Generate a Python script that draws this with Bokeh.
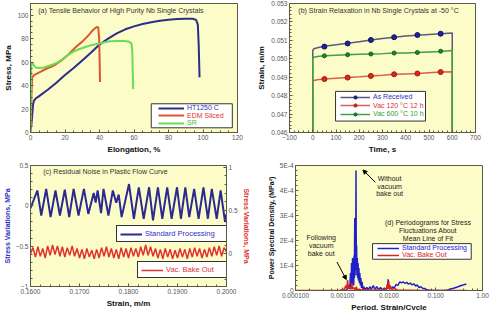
from bokeh.plotting import figure
from bokeh.models import (Range1d, LinearAxis, Legend, LegendItem, BoxAnnotation, Label,
                          Arrow, NormalHead, SingleIntervalTicker, NumeralTickFormatter,
                          CustomJSTickFormatter, LogTicker, FixedTicker)
from bokeh.layouts import row, column
from bokeh.embed import file_html
from bokeh.resources import INLINE

FONT = "Liberation Sans"
BG = "#fcfcc8"
EDGE = "#5a5a46"
TICKC = "#555555"

# ---------------- (a) tensile curves ----------------
a_ht_x = [0, 0.5, 1, 1.5, 2, 3, 5, 10, 15, 20, 25, 30, 35, 40, 45, 50, 55, 60, 65, 70,
          75, 80, 85, 90, 94, 96, 97, 97.5, 98]
a_ht_y = [2, 6, 15, 24, 27, 29, 31, 36.5, 42.5, 49, 55, 61.5, 68, 75, 80, 84.5, 88, 90.5, 92.5, 94,
          95.3, 96.2, 96.8, 97, 97, 96, 92, 75, 47]
a_edm_x = [0, 0.3, 0.6, 1, 2, 4, 6, 8, 10, 12, 14, 16, 18, 20, 22, 24, 26, 28, 30, 32,
           34, 36, 37.5, 38.5, 39.3, 39.8, 40.1, 40.3]
a_edm_y = [0, 15, 35, 47, 49, 50.5, 52, 53.5, 55, 56, 57.5, 59.5, 61.5, 64, 66.5, 69.5, 72.5, 75, 77.5, 80.5,
           83.5, 87, 89, 90, 89.5, 80, 60, 43]
a_sr_x = [0, 0.2, 0.5, 1, 2, 3, 5, 8, 10, 13, 16, 19, 22, 25, 28, 31, 34, 37, 40, 43,
          46, 50, 54, 57, 58.5, 59, 59.3, 59.5]
a_sr_y = [0, 30, 58, 60, 57, 55.5, 55, 55.5, 56.5, 58, 60, 63, 66.5, 69, 71, 72.5, 74, 75, 76, 77,
          77.8, 78, 78, 77.5, 76, 70, 50, 37]

# ---------------- (b) strain relaxation ----------------
b_line_t = [0, 0, 5, 20, 50, 100, 150, 200, 250, 300, 350, 400, 450, 500, 550, 600, 600]
b_asrec_line = [0.0455, 0.05045, 0.05055, 0.0506, 0.05068, 0.05076, 0.05084, 0.05093, 0.05102,
                0.0511, 0.05117, 0.05123, 0.05128, 0.05132, 0.05136, 0.0514, 0.0455]
b_vac120_line = [0.0455, 0.04876, 0.04882, 0.04886, 0.0489, 0.04894, 0.04898, 0.04902, 0.04907,
                 0.04911, 0.04916, 0.04918, 0.0492, 0.04924, 0.04928, 0.0493, 0.0455]
b_vac600_line = [0.0455, 0.05005, 0.05008, 0.05012, 0.05016, 0.05019, 0.05022, 0.05024, 0.05026,
                 0.05028, 0.05031, 0.05032, 0.05034, 0.05037, 0.0504, 0.05045, 0.0455]
b_mark_t = [50, 150, 250, 350, 450, 550]
b_asrec_mark = [0.05066, 0.05083, 0.05102, 0.05117, 0.05129, 0.05136]
b_vac120_mark = [0.0489, 0.04898, 0.04907, 0.04916, 0.0492, 0.04928]
b_vac600_mark = [0.05016, 0.05022, 0.05026, 0.05031, 0.05034, 0.05041]

# ---------------- (c) residual noise ----------------
c_std_x = [0.1600, 0.1614, 0.1622, 0.1632, 0.1641, 0.1651, 0.1660, 0.1670, 0.1679, 0.1688,
           0.1698, 0.1709, 0.1718, 0.1729, 0.1733, 0.1737, 0.1744, 0.1749, 0.1759, 0.1768,
           0.1775, 0.1780, 0.1786, 0.1801, 0.1811, 0.1821, 0.1831, 0.1842, 0.1850, 0.1860,
           0.1869, 0.1879, 0.1888, 0.1899, 0.1907, 0.1916, 0.1924, 0.1934, 0.1943, 0.1953,
           0.1962, 0.1970, 0.1980, 0.1988, 0.1997, 0.2000]
c_std_y = [-0.03, 0.19, -0.12, 0.21, -0.14, 0.19, -0.12, 0.20, -0.14, 0.21,
           -0.12, 0.21, -0.10, 0.16, 0.04, 0.19, -0.09, 0.21, -0.12, 0.19,
           0.04, 0.14, -0.14, 0.27, -0.16, 0.23, -0.16, 0.23, -0.18, 0.23,
           -0.16, 0.23, -0.16, 0.23, -0.16, 0.23, -0.14, 0.21, -0.16, 0.23,
           -0.16, 0.21, -0.16, 0.19, -0.20, -0.10]
c_bake_x = [0.1600, 0.1605, 0.1610, 0.1615, 0.1620, 0.1625, 0.1630, 0.1635, 0.1640, 0.1645,
            0.1650, 0.1655, 0.1660, 0.1665, 0.1670, 0.1675, 0.1680, 0.1685, 0.1690, 0.1695,
            0.1700, 0.1705, 0.1710, 0.1715, 0.1720, 0.1725, 0.1730, 0.1735, 0.1740, 0.1745,
            0.1750, 0.1755, 0.1760, 0.1765, 0.1770, 0.1775, 0.1780, 0.1785, 0.1790, 0.1795,
            0.1800, 0.1805, 0.1810, 0.1815, 0.1820, 0.1825, 0.1830, 0.1835, 0.1840, 0.1845,
            0.1850, 0.1855, 0.1860, 0.1865, 0.1870, 0.1875, 0.1880, 0.1885, 0.1890, 0.1895,
            0.1900, 0.1905, 0.1910, 0.1915, 0.1920, 0.1925, 0.1930, 0.1935, 0.1940, 0.1945,
            0.1950, 0.1955, 0.1960, 0.1965, 0.1970, 0.1975, 0.1980, 0.1985, 0.1990, 0.1995,
            0.2000]
c_bake_y = [0.00, 0.07, -0.04, 0.08, -0.03, 0.06, -0.05, 0.09, -0.02, 0.10,
            -0.01, 0.09, -0.03, 0.08, -0.04, 0.07, -0.02, 0.09, -0.03, 0.06,
            -0.05, 0.05, -0.06, 0.06, -0.04, 0.04, -0.06, 0.05, -0.05, 0.07,
            -0.03, 0.08, -0.04, 0.06, -0.05, 0.05, -0.06, 0.07, -0.04, 0.06,
            -0.05, 0.07, -0.03, 0.06, -0.04, 0.08, -0.02, 0.10, -0.02, 0.08,
            -0.03, 0.06, -0.05, 0.05, -0.06, 0.06, -0.04, 0.05, -0.06, 0.04,
            -0.05, 0.06, -0.04, 0.05, -0.06, 0.06, -0.04, 0.07, -0.03, 0.06,
            -0.05, 0.05, -0.04, 0.07, -0.03, 0.08, -0.02, 0.09, -0.03, 0.07,
            0.02]
c_left_ticks = [-1, -0.5, 0, 0.5]
c_right_ticks = [0, 0.5, 1]

# ---------------- (d) periodograms ----------------
d_std_period = [0.00100, 0.00125, 0.00138, 0.00145, 0.00150, 0.00154, 0.00158, 0.00162, 0.00166, 0.00170,
                0.00173, 0.00176, 0.00179, 0.00182, 0.00185, 0.00188, 0.00191, 0.00194, 0.00197, 0.00200,
                0.00203, 0.00206, 0.00210, 0.00214, 0.00218, 0.00222, 0.00227, 0.00232, 0.00238, 0.00244,
                0.00250, 0.00258, 0.00266, 0.00276, 0.00290, 0.00310, 0.00335, 0.00360, 0.00390, 0.00420,
                0.00460, 0.00500, 0.00550, 0.00600, 0.00660, 0.00720, 0.00800, 0.00870, 0.00930, 0.00960,
                0.00990, 0.01050, 0.01120, 0.01200, 0.01300, 0.01420, 0.01550, 0.01700, 0.01850, 0.02000,
                0.02200, 0.02400, 0.02600, 0.02850, 0.03100, 0.03400, 0.03700, 0.04000, 0.04400, 0.04800,
                0.05300, 0.05800, 0.06400, 0.07000, 0.08000, 0.09000, 0.10500, 0.12500, 0.15000, 0.18000,
                0.21000, 0.25000, 0.30000, 0.35000, 0.40000, 0.45000]
d_std_psd = [0.0e-4, 0.02e-4, 0.2e-4, 0.05e-4, 0.7e-4, 0.1e-4, 1.1e-4, 0.2e-4, 1.3e-4, 0.3e-4,
             0.9e-4, 0.2e-4, 1.4e-4, 0.5e-4, 2.9e-4, 0.6e-4, 1.6e-4, 0.8e-4, 4.8e-4, 0.9e-4,
             1.8e-4, 0.6e-4, 1.3e-4, 0.5e-4, 1.1e-4, 0.4e-4, 0.9e-4, 0.3e-4, 0.7e-4, 0.2e-4,
             0.5e-4, 0.1e-4, 0.35e-4, 0.05e-4, 0.15e-4, 0.02e-4, 0.12e-4, 0.03e-4, 0.15e-4, 0.05e-4,
             0.2e-4, 0.05e-4, 0.15e-4, 0.03e-4, 0.12e-4, 0.02e-4, 0.1e-4, 0.02e-4, 0.15e-4, 0.45e-4,
             0.1e-4, 0.15e-4, 0.05e-4, 0.15e-4, 0.1e-4, 0.25e-4, 0.2e-4, 0.35e-4, 0.3e-4, 0.35e-4,
             0.28e-4, 0.33e-4, 0.25e-4, 0.3e-4, 0.22e-4, 0.27e-4, 0.18e-4, 0.22e-4, 0.12e-4, 0.15e-4,
             0.08e-4, 0.08e-4, 0.03e-4, 0.02e-4, 0.0e-4, 0.0e-4, 0.0e-4, 0.0e-4, 0.0e-4, 0.02e-4,
             0.06e-4, 0.1e-4, 0.15e-4, 0.2e-4, 0.23e-4, 0.26e-4]
d_bake_period = [0.00010, 0.00050, 0.00090, 0.00110, 0.00120, 0.00125, 0.00130, 0.00135, 0.00145, 0.00155,
                 0.00160, 0.00165, 0.00175, 0.00190, 0.00200, 0.00210, 0.00230, 0.00260, 0.00300, 0.00400,
                 0.00500, 0.00700, 0.00880, 0.00920, 0.00950, 0.00980, 0.01020, 0.01060, 0.01150, 0.01300,
                 0.01500, 0.02000, 0.03000, 0.05000, 0.10000, 0.20000, 0.45000]
d_bake_psd = [0.0e-4, 0.0e-4, 0.01e-4, 0.05e-4, 0.2e-4, 0.05e-4, 0.42e-4, 0.08e-4, 0.15e-4, 0.05e-4,
              0.3e-4, 0.05e-4, 0.12e-4, 0.03e-4, 0.15e-4, 0.02e-4, 0.05e-4, 0.02e-4, 0.03e-4, 0.01e-4,
              0.02e-4, 0.01e-4, 0.05e-4, 0.25e-4, 0.05e-4, 0.38e-4, 0.08e-4, 0.2e-4, 0.05e-4, 0.08e-4,
              0.02e-4, 0.01e-4, 0.01e-4, 0.0e-4, 0.0e-4, 0.0e-4, 0.0e-4]


def style(p):
    p.background_fill_color = BG
    p.border_fill_color = "white"
    p.outline_line_color = EDGE
    p.outline_line_width = 1
    p.xgrid.visible = False
    p.ygrid.visible = False
    for ax in p.axis:
        ax.axis_line_color = EDGE
        ax.major_tick_line_color = EDGE
        ax.minor_tick_line_color = EDGE
        ax.major_tick_in = 3
        ax.major_tick_out = 0
        ax.minor_tick_in = 2
        ax.minor_tick_out = 0
        ax.major_label_text_font = FONT
        ax.major_label_text_font_size = "6.5px"
        ax.major_label_text_color = TICKC
        ax.major_label_standoff = 2
        ax.axis_label_text_font = FONT
        ax.axis_label_text_font_size = "8px"
        ax.axis_label_text_font_style = "bold"
        ax.axis_label_text_color = "#111111"
        ax.axis_label_standoff = 2


def add_legend(p, renderers, label, color, loc, size="7px", glyph_w=26, border=None,
               pad=0, label_w=20):
    lg = Legend(items=[LegendItem(label=label, renderers=renderers)], location=loc,
                orientation="vertical", padding=pad, margin=0, spacing=0,
                glyph_width=glyph_w, glyph_height=8, label_height=8, label_width=label_w,
                label_standoff=3, label_text_font=FONT, label_text_font_size=size,
                label_text_color=color, background_fill_color="white",
                background_fill_alpha=1 if border else 0,
                border_line_color=border if border else "white",
                border_line_alpha=1 if border else 0)
    p.add_layout(lg)


def title(p, x, y, text, **kw):
    p.add_layout(Label(x=x, y=y, text=text, text_font=FONT, text_font_size="7px",
                       text_color="#333333", text_baseline="middle", **kw))


def make(fw, fh, left, right, top, bottom, **kw):
    return figure(frame_width=fw, frame_height=fh, min_border_left=left, min_border_right=right,
                  min_border_top=top, min_border_bottom=bottom, title=None,
                  output_backend="svg", toolbar_location=None, **kw)


# ================= panel (a) =================
pa = make(207, 129, 24, 8, 3, 22, x_range=Range1d(0, 120), y_range=Range1d(0, 110))
ra1 = pa.line(a_ht_x, a_ht_y, line_color="#2c2c8c", line_width=2)
ra2 = pa.line(a_edm_x, a_edm_y, line_color="#e0542a", line_width=2)
ra3 = pa.line(a_sr_x, a_sr_y, line_color="#66dd55", line_width=2)
pa.xaxis.ticker = SingleIntervalTicker(interval=20, num_minor_ticks=4)
pa.yaxis.ticker = SingleIntervalTicker(interval=20, num_minor_ticks=4)
pa.xaxis.axis_label = "Elongation, %"
pa.yaxis.axis_label = "Stress, MPa"
style(pa)
title(pa, 4.5, 104, "(a) Tensile Behavior of High Purity Nb Single Crystals")
pa.add_layout(BoxAnnotation(left=70, right=117, bottom=4, top=24.5, fill_color="white",
                            fill_alpha=1, line_color="#333333", line_width=1, line_alpha=1))
add_legend(pa, [ra1], "HT1250 C", "#3030c0", (128, 20.5))
add_legend(pa, [ra2], "EDM Sliced", "#e03030", (128, 13))
add_legend(pa, [ra3], "SR", "#40c040", (128, 5.5))

# ================= panel (b) =================
pb = make(186, 129, 44, 9, 3, 22, x_range=Range1d(-100, 700), y_range=Range1d(0.046, 0.053))
lb1 = pb.line(b_line_t, b_asrec_line, line_color="#5a5a78", line_width=1.5)
lb2 = pb.line(b_line_t, b_vac120_line, line_color="#d86050", line_width=1.5)
lb3 = pb.line(b_line_t, b_vac600_line, line_color="#40a040", line_width=1.5)
mb1 = pb.scatter(b_mark_t, b_asrec_mark, size=5, fill_color="#2020a0", line_color="#101060")
mb2 = pb.scatter(b_mark_t, b_vac120_mark, size=5, fill_color="#e02818", line_color="#a01808")
mb3 = pb.scatter(b_mark_t, b_vac600_mark, size=4, fill_color="#1a8a1a", line_color="#106010")
pb.xaxis.ticker = SingleIntervalTicker(interval=100, num_minor_ticks=5)
pb.yaxis.ticker = SingleIntervalTicker(interval=0.001, num_minor_ticks=5)
pb.yaxis.formatter = NumeralTickFormatter(format="0.000")
pb.xaxis.axis_label = "Time, s"
pb.yaxis.axis_label = "Strain, m/m"
style(pb)
title(pb, -62, 0.05263, "(b) Strain Relaxation in Nb Single Crystals at -50 \u00b0C")
pb.add_layout(BoxAnnotation(left=98, right=485, bottom=0.04662, top=0.04823, fill_color="white",
                            fill_alpha=1, line_color="#333333", line_width=1, line_alpha=1))
add_legend(pb, [lb1, mb1], "As Received", "#3030c0", (51, 31.5), glyph_w=30)
add_legend(pb, [lb2, mb2], "Vac 120 \u00b0C 12 h", "#e03030", (51, 23), glyph_w=30)
add_legend(pb, [lb3, mb3], "Vac 600 \u00b0C 10 h", "#30a030", (51, 14.5), glyph_w=30)

# ================= panel (c) =================
pc = make(196, 121, 24, 19, 9, 24, x_range=Range1d(0.16, 0.20), y_range=Range1d(-1, 0.5))
pc.extra_y_ranges = {"right": Range1d(-0.38, 1.02)}
pc.add_layout(LinearAxis(y_range_name="right", axis_label="Stress Variations, MPa",
                         ticker=FixedTicker(ticks=c_right_ticks,
                                            minor_ticks=[-0.3, -0.2, -0.1, 0.1, 0.2, 0.3, 0.4,
                                                         0.6, 0.7, 0.8, 0.9])), "right")
lc1 = pc.line(c_std_x, c_std_y, line_color="#2a2a90", line_width=2)
lc2 = pc.line(c_bake_x, c_bake_y, line_color="#e03030", line_width=1.5, y_range_name="right")
pc.xaxis.ticker = SingleIntervalTicker(interval=0.01, num_minor_ticks=5)
pc.xaxis.formatter = NumeralTickFormatter(format="0.0000")
pc.yaxis[0].ticker = FixedTicker(ticks=c_left_ticks,
                                 minor_ticks=[-0.9, -0.8, -0.7, -0.6, -0.4, -0.3, -0.2, -0.1,
                                              0.1, 0.2, 0.3, 0.4])
pc.xaxis.axis_label = "Strain, m/m"
pc.yaxis[0].axis_label = "Stress Variations, MPa"
style(pc)
pc.yaxis[0].axis_label_text_color = "#3030c0"
pc.yaxis[1].axis_label_text_color = "#e03030"
pc.yaxis[0].axis_label_text_font_size = "7px"
pc.yaxis[1].axis_label_text_font_size = "7px"
title(pc, 0.1626, 0.43, "(c) Residual Noise in Plastic Flow Curve")
add_legend(pc, [lc1], "Standard Processing", "#3030c0", (86, 44), size="7.5px",
           glyph_w=22, border="#333333", pad=3, label_w=79)
add_legend(pc, [lc2], "Vac. Bake Out", "#e03030", (107, 8), size="7.5px",
           glyph_w=22, border="#333333", pad=3, label_w=58)

# ================= panel (d) =================
pd_ = make(187, 125, 43, 9, 5, 24, x_axis_type="log", x_range=Range1d(1e-4, 1.0),
           y_range=Range1d(0, 5e-4))
ld1 = pd_.line(d_std_period, d_std_psd, line_color="#2020c8", line_width=1.5)
ld2 = pd_.line(d_bake_period, d_bake_psd, line_color="#e02020", line_width=1.5)
pd_.xaxis.ticker = LogTicker(desired_num_ticks=5)
pd_.xaxis.formatter = CustomJSTickFormatter(code="return tick.toPrecision(3);")
pd_.yaxis.ticker = SingleIntervalTicker(interval=1e-4, num_minor_ticks=5)
pd_.yaxis.formatter = CustomJSTickFormatter(
    code="return tick == 0 ? '0' : Math.round(tick * 1e4) + 'E-4';")
pd_.xaxis.axis_label = "Period, Strain/Cycle"
pd_.yaxis.axis_label = "Power Spectral Density, (MPa\u00b2)"
style(pd_)
pd_.yaxis.axis_label_text_font_size = "7px"
for txt, x, y in [("Without\nvacuum\nbake out", 0.0103, 4.62e-4),
                  ("Following\nvacuum\nbake out", 0.000355, 2.25e-4),
                  ("(d) Periodograms for Stress\nFluctuations About\nMean Line of Fit", 0.068, 2.85e-4)]:
    pd_.add_layout(Label(x=x, y=y, text=txt, text_font=FONT, text_font_size="7px",
                         text_color="#222222", text_align="center", text_baseline="top",
                         text_line_height=1.1))
pd_.add_layout(Arrow(end=NormalHead(size=4, fill_color="black", line_color="black"),
                     x_start=0.0051, y_start=4.33e-4, x_end=0.00277, y_end=4.82e-4,
                     line_color="black", line_width=1))
pd_.add_layout(Arrow(end=NormalHead(size=4, fill_color="black", line_color="black"),
                     x_start=0.00077, y_start=1.14e-4, x_end=0.00122, y_end=0.44e-4,
                     line_color="black", line_width=1))
pd_.add_layout(BoxAnnotation(left=0.00445, right=0.574, bottom=1.25e-4, top=1.875e-4,
                             fill_color="white", fill_alpha=1, line_color="#333333",
                             line_width=1, line_alpha=1))
add_legend(pd_, [ld1], "Standard Processing", "#2020c8", (82, 38.5), glyph_w=22)
add_legend(pd_, [ld2], "Vac. Bake Out", "#e02020", (82, 31.5), glyph_w=22)

layout = column(row(pa, pb), row(pc, pd_))
open("out.html", "w").write(file_html(layout, INLINE))
